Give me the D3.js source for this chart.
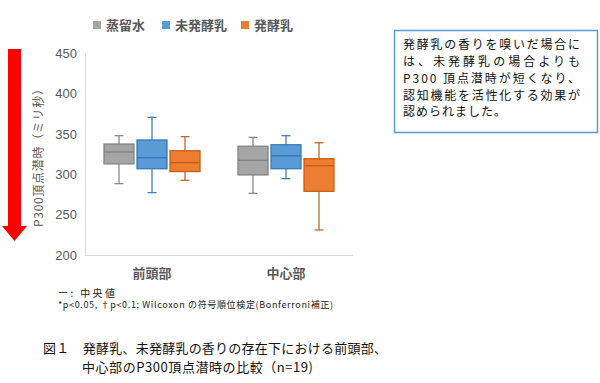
<!DOCTYPE html>
<html><head><meta charset="utf-8">
<script src="https://cdn.jsdelivr.net/npm/d3@7"></script>
<style>
html,body{margin:0;padding:0;background:#fff;}
svg{display:block;font-family:"Noto Sans CJK JP","Noto Sans",sans-serif;}
</style></head>
<body>
<svg id="chart" width="600" height="383"></svg>
<script>
const categories = ["前頭部", "中心部"];
const seriesNames = ["蒸留水", "未発酵乳", "発酵乳"];
// [min, q1, median, q3, max] per category
const distilledWater = [[288.5, 313, 327.8, 337.7, 348], [276.5, 299.3, 317.5, 335, 346]];
const unfermentedMilk = [[277.3, 307, 320.7, 342.7, 370.8], [294.7, 307, 323, 336.8, 348]];
const fermentedMilk = [[292.7, 303.5, 314.5, 329.4, 346.8], [231, 279, 310.8, 319.5, 339.3]];
const yTicks = [200, 250, 300, 350, 400, 450];
const noteLines = ["発酵乳の香りを嗅いだ場合に", "は、未発酵乳の場合よりも", "P300 頂点潜時が短くなり、", "認知機能を活性化する効果が", "認められました。"];

const seriesData = [distilledWater, unfermentedMilk, fermentedMilk];
const fills = ["#a5a5a5", "#5b9bd5", "#ed7d31"];
const strokes = ["#7f7f7f", "#2e75b6", "#c55a11"];

const svg = d3.select("#chart");
const textCol = "#595959";

// red arrow
const arrow = svg.append("g");
arrow.append("rect").attr("x", 8).attr("y", 49).attr("width", 13).attr("height", 178).attr("fill", "#ff0000");
arrow.append("path").attr("d", "M2,226 L27,226 L14.5,241 Z").attr("fill", "#ff0000");

const y = d3.scaleLinear().domain([200, 450]).range([255, 53.5]);
const x0 = d3.scaleBand().domain(categories).range([85, 353]);
const x1 = d3.scaleBand().domain(seriesNames).range([0, x0.bandwidth()]).paddingInner(0.09).paddingOuter(0.575);

// axis lines
svg.append("line").attr("x1", 85.5).attr("x2", 85.5).attr("y1", y(450)).attr("y2", y(200)).attr("stroke", "#d9d9d9");
svg.append("line").attr("x1", 85).attr("x2", 353).attr("y1", y(200) + 0.5).attr("y2", y(200) + 0.5).attr("stroke", "#d9d9d9");

// y tick labels
svg.append("g").selectAll("text").data(yTicks).join("text")
  .attr("x", 77).attr("y", d => y(d)).attr("dy", "0.35em")
  .attr("text-anchor", "end").attr("font-size", 13).attr("fill", textCol)
  .attr("font-family", "'Liberation Sans', Arial, sans-serif")
  .text(d => d);

// y title
svg.append("text").attr("transform", "translate(43,155) rotate(-90)")
  .attr("text-anchor", "middle").attr("font-size", 12).attr("fill", textCol)
  .attr("textLength", 144).attr("lengthAdjust", "spacing")
  .text("P300頂点潜時（ミリ秒）");

// category labels
svg.append("g").selectAll("text").data(categories).join("text")
  .attr("x", d => x0(d) + x0.bandwidth() / 2).attr("y", 273).attr("dy", "0.35em")
  .attr("text-anchor", "middle").attr("font-size", 13).attr("font-weight", "bold").attr("fill", textCol)
  .text(d => d);

// boxes
seriesNames.forEach((s, si) => {
  const g = svg.append("g");
  categories.forEach((c, ci) => {
    const [mn, q1, md, q3, mx] = seriesData[si][ci];
    const bx = x0(c) + x1(s);
    const bw = x1.bandwidth();
    const cx = bx + bw / 2;
    const st = strokes[si];
    g.append("line").attr("x1", cx).attr("x2", cx).attr("y1", y(mx)).attr("y2", y(q3)).attr("stroke", st).attr("stroke-width", 1.2);
    g.append("line").attr("x1", cx).attr("x2", cx).attr("y1", y(q1)).attr("y2", y(mn)).attr("stroke", st).attr("stroke-width", 1.2);
    g.append("line").attr("x1", cx - 4.5).attr("x2", cx + 4.5).attr("y1", y(mx)).attr("y2", y(mx)).attr("stroke", st).attr("stroke-width", 1.2);
    g.append("line").attr("x1", cx - 4.5).attr("x2", cx + 4.5).attr("y1", y(mn)).attr("y2", y(mn)).attr("stroke", st).attr("stroke-width", 1.2);
    g.append("rect").attr("x", bx).attr("y", y(q3)).attr("width", bw).attr("height", y(q1) - y(q3))
      .attr("fill", fills[si]).attr("stroke", st).attr("stroke-width", 1.2);
    g.append("line").attr("x1", bx).attr("x2", bx + bw).attr("y1", y(md)).attr("y2", y(md)).attr("stroke", st).attr("stroke-width", 1.2);
  });
});

// legend
const legendX = [93, 162, 241];
const lg = svg.append("g");
seriesNames.forEach((s, i) => {
  lg.append("rect").attr("x", legendX[i]).attr("y", 21).attr("width", 8).attr("height", 8).attr("fill", fills[i]);
  lg.append("text").attr("x", legendX[i] + 13).attr("y", 25).attr("dy", "0.35em")
    .attr("font-size", 13).attr("font-weight", "bold").attr("fill", textCol).text(s);
});

// footnotes
svg.append("text").attr("x", 58).attr("y", 293).attr("dy", "0.35em").attr("font-size", 10).attr("fill", "#222")
  .attr("textLength", 57).attr("lengthAdjust", "spacing")
  .text("ー: 中央値");
svg.append("text").attr("x", 58).attr("y", 305).attr("dy", "0.35em").attr("font-size", 9).attr("fill", "#222")
  .attr("textLength", 275).attr("lengthAdjust", "spacing")
  .text("*p<0.05, †p<0.1; Wilcoxon の符号順位検定(Bonferroni補正)");

// caption
svg.append("text").attr("x", 43).attr("y", 348).attr("dy", "0.35em").attr("font-size", 13).attr("fill", "#111")
  .attr("textLength", 344).attr("lengthAdjust", "spacing")
  .text("図１　発酵乳、未発酵乳の香りの存在下における前頭部、");
svg.append("text").attr("x", 82).attr("y", 367).attr("dy", "0.35em").attr("font-size", 13).attr("fill", "#111")
  .attr("textLength", 231).attr("lengthAdjust", "spacing")
  .text("中心部のP300頂点潜時の比較（n=19)");

// note box
svg.append("rect").attr("x", 394.5).attr("y", 30.5).attr("width", 203).attr("height", 102)
  .attr("fill", "#fff").attr("stroke", "#5b9bd5").attr("stroke-width", 1.5);
const nt = svg.append("g");
noteLines.forEach((l, i) => {
  const t = nt.append("text").attr("x", 403).attr("y", 45 + i * 16.8).attr("dy", "0.35em")
    .attr("font-size", 12).attr("fill", "#111")
    .attr("lengthAdjust", "spacing")
    .attr("textLength", i < 4 ? 177 : 103)
    .text(l);
});
</script>
</body></html>
